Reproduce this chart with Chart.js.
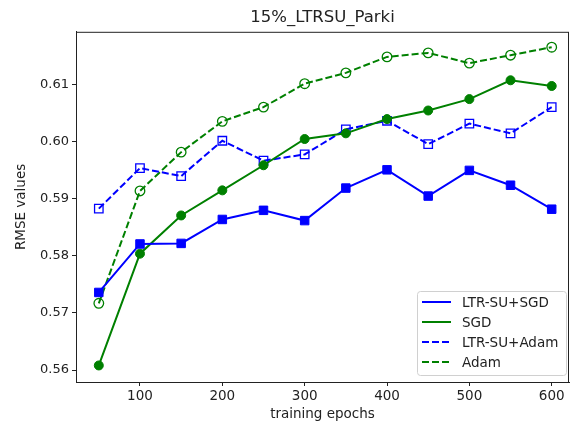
<!DOCTYPE html>
<html><head><meta charset="utf-8">
<script src="https://cdn.jsdelivr.net/npm/chart.js@4/dist/chart.umd.min.js"></script>
<style>html,body{margin:0;padding:0;background:#fff}</style>
</head><body>
<canvas id="c" width="570" height="426"></canvas>
<script>
const epochs = [50,100,150,200,250,300,350,400,450,500,550,600];
const ltrSuSgd  = [0.5736,0.5821,0.5822,0.5864,0.5880,0.5862,0.5919,0.5951,0.5905,0.5950,0.5924,0.5882];
const sgd       = [0.5608,0.5804,0.5871,0.5915,0.5959,0.6005,0.6015,0.6040,0.6055,0.6075,0.6108,0.6098];
const ltrSuAdam = [0.5883,0.5954,0.5940,0.6002,0.5967,0.5978,0.6022,0.6037,0.5996,0.6032,0.6015,0.6061];
const adam      = [0.5717,0.5914,0.5982,0.6036,0.6061,0.6102,0.6121,0.6149,0.6156,0.6138,0.6152,0.6166];
const xTicks = [100,200,300,400,500,600];
const yTicks = [0.56,0.57,0.58,0.59,0.60,0.61];
const labels = ['LTR-SU+SGD','SGD','LTR-SU+Adam','Adam'];

const BLUE='#0000ff', GREEN='#008000';
const FONT='DejaVu Sans';
const pts = arr => epochs.map((e,i)=>({x:e,y:arr[i]}));

const frame = {
  id:'frame',
  afterDraw(chart){
    const {ctx, chartArea:a} = chart;
    ctx.save();
    ctx.strokeStyle='#222'; ctx.lineWidth=1;
    ctx.strokeRect(a.left+0.5, a.top+0.5, a.right-a.left-1, a.bottom-a.top);
    // legend
    const bx=417, by=291, bw=149, bh=84;
    ctx.fillStyle='rgba(255,255,255,0.85)';
    ctx.strokeStyle='#d0d0d0';
    ctx.beginPath();
    ctx.roundRect(bx+0.5,by+0.5,bw,bh,3);
    ctx.fill(); ctx.stroke();
    const ds = chart.data.datasets;
    ctx.font = '13.5px "'+FONT+'"';
    ctx.textBaseline='middle';
    ds.forEach((d,i)=>{
      const y = 302 + i*20;
      ctx.strokeStyle=d.borderColor; ctx.lineWidth=2;
      ctx.setLineDash(d.borderDash||[]);
      ctx.beginPath(); ctx.moveTo(422,y); ctx.lineTo(451,y); ctx.stroke();
      ctx.setLineDash([]);
      ctx.fillStyle='#222';
      ctx.fillText(d.label, 462, y+1);
    });
    ctx.restore();
  }
};

new Chart(document.getElementById('c'), {
  type:'line',
  data:{datasets:[
    {label:labels[0], data:pts(ltrSuSgd), borderColor:BLUE, backgroundColor:BLUE, borderWidth:2,
     pointStyle:'rect', pointRadius:6, pointBorderWidth:1, pointBackgroundColor:BLUE},
    {label:labels[1], data:pts(sgd), borderColor:GREEN, backgroundColor:GREEN, borderWidth:2,
     pointStyle:'circle', pointRadius:4.5, pointBorderWidth:1, pointBackgroundColor:GREEN},
    {label:labels[2], data:pts(ltrSuAdam), borderColor:BLUE, backgroundColor:'rgba(0,0,0,0)', borderWidth:2, borderDash:[7,3],
     pointStyle:'rect', pointRadius:6, pointBorderWidth:1.3, pointBackgroundColor:'rgba(0,0,0,0)'},
    {label:labels[3], data:pts(adam), borderColor:GREEN, backgroundColor:'rgba(0,0,0,0)', borderWidth:2, borderDash:[7,3],
     pointStyle:'circle', pointRadius:4.8, pointBorderWidth:1.3, pointBackgroundColor:'rgba(0,0,0,0)'}
  ]},
  options:{
    responsive:false, animation:false,
    layout:{autoPadding:false, padding:{left:0,right:1,top:0,bottom:0}},
    plugins:{
      legend:{display:false},
      tooltip:{enabled:false},
      title:{display:true, fullSize:false, text:'15%_LTRSU_Parki', color:'#222',
        font:{family:FONT, size:16.5, weight:'normal'}, padding:{top:8,bottom:4}}
    },
    scales:{
      x:{type:'linear', min:22.3, max:621,
        afterBuildTicks: s => { s.ticks = xTicks.map(v=>({value:v})); },
        afterFit: s => { s.height = 44; s.paddingLeft = 0; s.paddingRight = 0; },
        grid:{display:true, drawOnChartArea:false, drawTicks:true, tickLength:4, color:'#222'},
        border:{display:true, color:'#222'},
        ticks:{color:'#222', font:{family:FONT,size:13.5}, padding:2, maxRotation:0, callback:v=>String(v)},
        title:{display:true, text:'training epochs', color:'#222', font:{family:FONT,size:13.5}, padding:{top:0,bottom:3}}
      },
      y:{type:'linear', min:0.5579, max:0.6193,
        afterBuildTicks: s => { s.ticks = yTicks.map(v=>({value:v})); },
        afterFit: s => { s.width = 76; s.paddingTop = 0; s.paddingBottom = 0; },
        grid:{display:true, drawOnChartArea:false, drawTicks:true, tickLength:4, color:'#222'},
        border:{display:true, color:'#222'},
        ticks:{color:'#222', font:{family:FONT,size:13}, padding:3, callback:v=>v.toFixed(2)},
        title:{display:true, text:'RMSE values', color:'#222', font:{family:FONT,size:13.5}, padding:{top:13,bottom:0}}
      }
    }
  },
  plugins:[frame]
});
</script>
</body></html>
